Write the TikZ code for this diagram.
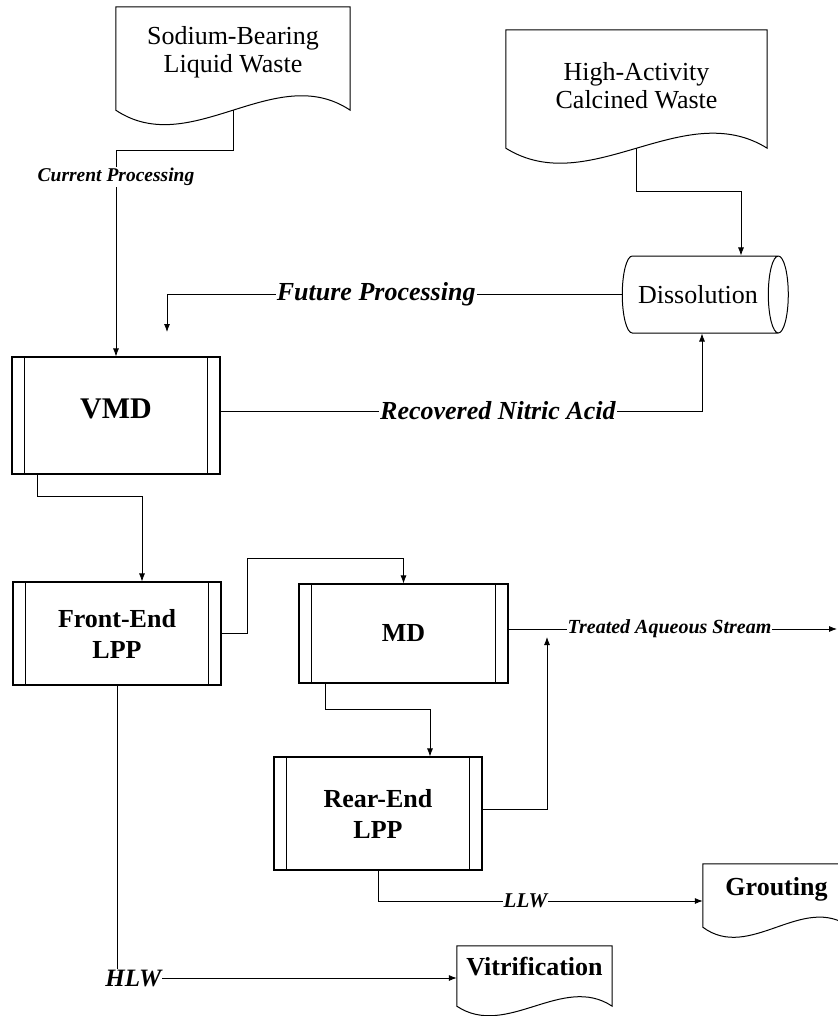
\documentclass[tikz,border=0pt]{standalone}
\usepackage{fontspec}
\setmainfont{Liberation Serif}
\usetikzlibrary{arrows.meta,calc,shapes.geometric}
\newcommand{\boxfont}{\fontsize{26}{28}\selectfont}
\newcommand{\procfont}{\fontsize{26}{31}\selectfont\bfseries}
% waste document: node, wave amplitude, extra side length
\newcommand{\wastedoc}[3]{%
  \draw[docline] (#1.north west) -- (#1.north east) -- ($(#1.south east)+(0,#3)$)
    .. controls ($(#1.south east)!.32!(#1.south west)+(0,#3-#2)$) and ($(#1.south west)!.32!(#1.south east)+(0,#3+#2)$) .. ($(#1.south west)+(0,#3)$) -- cycle;
  \coordinate (#1-foot) at ($(#1.south)+(0,#3)$);}
\tikzset{>=Latex,
  docline/.style={line width=1pt},
  docbox/.style={rectangle,inner sep=0pt,align=center,font=\boxfont},
  procbox/.style={draw,rectangle,line width=1.1pt,align=center,font=\procfont},
  flow/.style={-{Latex[length=8pt,width=6pt]},line width=.8pt},
  lab/.style={fill=white,inner sep=1pt,font=\boxfont\bfseries\itshape},
  sublab/.style={lab,font=\fontsize{20}{22}\selectfont\bfseries\itshape}}
\begin{document}
\begin{tikzpicture}[x=1pt,y=-1pt]
\useasboundingbox (0,0) rectangle (837,1016);

% sources and sinks
\node[docbox,minimum width=234pt,minimum height=90pt] (sbw) at (233,52) {Sodium-Bearing\\Liquid Waste};
\node[docbox,minimum width=261pt,minimum height=112pt] (hac) at (636.5,86) {High-Activity\\Calcined Waste};
\node[docbox,minimum width=147pt,minimum height=50pt,font=\boxfont\bfseries] (gro) at (776.5,889) {Grouting};
\node[docbox,minimum width=155pt,minimum height=42pt,font=\boxfont\bfseries] (vit) at (534.5,967) {Vitrification};
\wastedoc{sbw}{50}{13}
\wastedoc{hac}{52}{6}
\wastedoc{gro}{35}{13}
\wastedoc{vit}{33}{18}

\node[draw,cylinder,aspect=.8,minimum width=77pt,minimum height=166pt,line width=1pt,font=\boxfont] (diss) at (698,294.5) {Dissolution};

% process units
\node[procbox,minimum width=208pt,minimum height=117pt,text depth=14pt,font=\fontsize{30}{32}\selectfont\bfseries] (vmd) at (116,415.5) {VMD};
\node[procbox,minimum width=208pt,minimum height=103pt] (fe) at (117,633.5) {Front-End\\LPP};
\node[procbox,minimum width=209pt,minimum height=99pt] (md) at (403.5,633.5) {MD};
\node[procbox,minimum width=208pt,minimum height=113pt] (re) at (378,813.5) {Rear-End\\LPP};
\foreach \p in {vmd,fe,md,re}{
  \draw[line width=1.1pt] ([xshift=13pt]\p.north west) -- ([xshift=13pt]\p.south west);
  \draw[line width=1.1pt] ([xshift=-13pt]\p.north east) -- ([xshift=-13pt]\p.south east);}

% streams
\coordinate (fpend) at (167,332);
\coordinate (tasend) at (837,629);
\coordinate (rejoin) at (547,637);
\draw[flow] (sbw-foot) -- ++(0,40) -| node[sublab,font=\fontsize{19.5}{21}\selectfont\bfseries\itshape,pos=.565] {Current Processing} (vmd.north);
\draw[flow] (hac-foot) -- ++(0,43) -| ([xshift=43pt]diss.north);
\draw[flow] (diss.west) -- node[lab,pos=.54] {Future Processing} (fpend |- diss.west) -- (fpend);
\draw[flow] ([yshift=4.5pt]vmd.east) -| node[lab,pos=.288] {Recovered Nitric Acid} ([xshift=4pt]diss.south);
\draw[flow] ([xshift=26pt]vmd.south west) -- ++(0,22) -| ([xshift=25pt]fe.north);
\draw[flow] (fe.east) -- ++(26,0) |- ($(md.north)+(0,-25)$) -- (md.north);
\draw[flow] ([yshift=4.5pt]md.east) -- node[sublab,pos=.49] {Treated Aqueous Stream} (tasend);
\draw[flow] ([xshift=27pt]md.south west) -- ++(0,26) -| ([xshift=52pt]re.north);
\draw[flow] ([yshift=4.5pt]re.east) -| (rejoin);
\draw[flow] (re.south) |- node[sublab,font=\fontsize{21}{23}\selectfont\bfseries\itshape,pos=.727] {LLW} ([yshift=-12pt]gro.west);
\draw[flow] (fe.south) |- node[lab,font=\fontsize{25}{27}\selectfont\bfseries\itshape,pos=.524] {HLW} ([yshift=-11pt]vit.west);
\end{tikzpicture}
\end{document}
